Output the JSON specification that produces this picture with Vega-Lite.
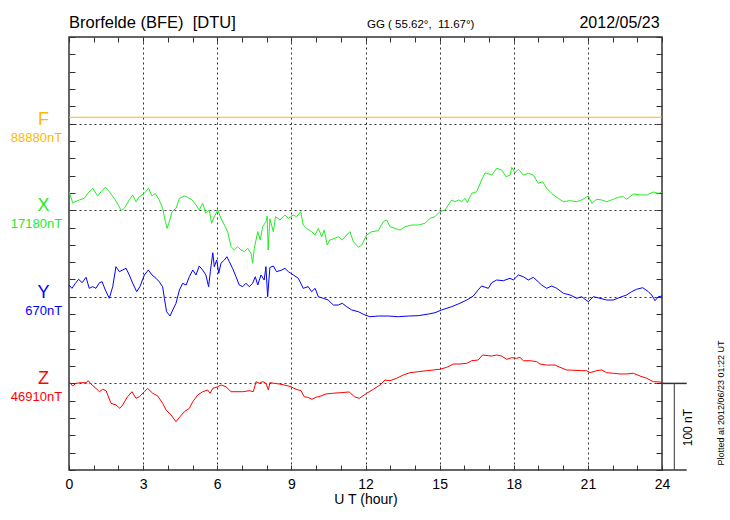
{
  "$schema": "https://vega.github.io/schema/vega-lite/v6.json",
  "width": 593,
  "height": 433,
  "autosize": "none",
  "padding": {"left": 69, "top": 37, "right": 68, "bottom": 50},
  "background": "white",
  "config": {"font": "Liberation Sans", "view": {"stroke": "#333333", "strokeWidth": 1.5}},
  "datasets": {
    "series": [
      {"c":"X","h":0,"v":321.4},{"c":"X","h":0.15,"v":308.7},{"c":"X","h":0.42,"v":311.8},{"c":"X","h":0.62,"v":313.7},{"c":"X","h":0.76,"v":319.5},{"c":"X","h":0.96,"v":325.3},{"c":"X","h":1.16,"v":316.4},{"c":"X","h":1.3,"v":321.4},{"c":"X","h":1.47,"v":326.4},{"c":"X","h":1.63,"v":321.4},{"c":"X","h":1.83,"v":313.7},{"c":"X","h":2.04,"v":304},{"c":"X","h":2.1,"v":299.4},{"c":"X","h":2.24,"v":302.2},{"c":"X","h":2.44,"v":311.8},{"c":"X","h":2.58,"v":317.6},{"c":"X","h":2.71,"v":309.8},{"c":"X","h":2.85,"v":315.6},{"c":"X","h":3.05,"v":319.5},{"c":"X","h":3.22,"v":325.3},{"c":"X","h":3.36,"v":316.4},{"c":"X","h":3.49,"v":319.5},{"c":"X","h":3.65,"v":311.8},{"c":"X","h":3.79,"v":302.2},{"c":"X","h":3.9,"v":286.7},{"c":"X","h":3.97,"v":279},{"c":"X","h":4.06,"v":286.7},{"c":"X","h":4.17,"v":298.3},{"c":"X","h":4.33,"v":302.2},{"c":"X","h":4.47,"v":313.7},{"c":"X","h":4.67,"v":316.4},{"c":"X","h":4.8,"v":314.9},{"c":"X","h":4.98,"v":311.8},{"c":"X","h":5.14,"v":306},{"c":"X","h":5.27,"v":300.2},{"c":"X","h":5.41,"v":308},{"c":"X","h":5.54,"v":296.4},{"c":"X","h":5.68,"v":300.2},{"c":"X","h":5.77,"v":284.9},{"c":"X","h":5.88,"v":292.5},{"c":"X","h":6.02,"v":300.2},{"c":"X","h":6.15,"v":290.6},{"c":"X","h":6.29,"v":282.9},{"c":"X","h":6.42,"v":275.2},{"c":"X","h":6.56,"v":257.9},{"c":"X","h":6.69,"v":254},{"c":"X","h":6.83,"v":257.9},{"c":"X","h":6.96,"v":254},{"c":"X","h":7.1,"v":252.1},{"c":"X","h":7.23,"v":256},{"c":"X","h":7.37,"v":250.2},{"c":"X","h":7.43,"v":238.7},{"c":"X","h":7.5,"v":256},{"c":"X","h":7.64,"v":275.2},{"c":"X","h":7.74,"v":265.6},{"c":"X","h":7.84,"v":281},{"c":"X","h":7.97,"v":286.7},{"c":"X","h":8.02,"v":293.3},{"c":"X","h":8.06,"v":254},{"c":"X","h":8.13,"v":290},{"c":"X","h":8.27,"v":275.2},{"c":"X","h":8.36,"v":292.5},{"c":"X","h":8.54,"v":288.7},{"c":"X","h":8.74,"v":294.5},{"c":"X","h":8.88,"v":290.6},{"c":"X","h":9.08,"v":294.5},{"c":"X","h":9.21,"v":292.5},{"c":"X","h":9.38,"v":298.3},{"c":"X","h":9.48,"v":282.9},{"c":"X","h":9.62,"v":279},{"c":"X","h":9.82,"v":275.2},{"c":"X","h":9.96,"v":271.4},{"c":"X","h":10.09,"v":279},{"c":"X","h":10.23,"v":269.4},{"c":"X","h":10.33,"v":277.1},{"c":"X","h":10.45,"v":259.8},{"c":"X","h":10.56,"v":265.6},{"c":"X","h":10.77,"v":267.6},{"c":"X","h":10.9,"v":269.4},{"c":"X","h":11.06,"v":265.6},{"c":"X","h":11.24,"v":271.4},{"c":"X","h":11.37,"v":275.2},{"c":"X","h":11.51,"v":263.6},{"c":"X","h":11.71,"v":257.2},{"c":"X","h":11.85,"v":259.8},{"c":"X","h":12.05,"v":271.4},{"c":"X","h":12.25,"v":275.2},{"c":"X","h":12.52,"v":276.3},{"c":"X","h":12.72,"v":286.7},{"c":"X","h":12.86,"v":288.7},{"c":"X","h":12.99,"v":281},{"c":"X","h":13.19,"v":279},{"c":"X","h":13.4,"v":277.1},{"c":"X","h":13.6,"v":281},{"c":"X","h":13.87,"v":282.9},{"c":"X","h":14.14,"v":282.9},{"c":"X","h":14.41,"v":284.9},{"c":"X","h":14.61,"v":290.6},{"c":"X","h":14.81,"v":292.5},{"c":"X","h":15.01,"v":298.3},{"c":"X","h":15.22,"v":300.2},{"c":"X","h":15.35,"v":306},{"c":"X","h":15.49,"v":311.8},{"c":"X","h":15.62,"v":309.8},{"c":"X","h":15.76,"v":311.8},{"c":"X","h":15.89,"v":309.8},{"c":"X","h":16.03,"v":313.7},{"c":"X","h":16.12,"v":309},{"c":"X","h":16.3,"v":319.5},{"c":"X","h":16.5,"v":321.4},{"c":"X","h":16.7,"v":334.9},{"c":"X","h":16.84,"v":343.3},{"c":"X","h":17.11,"v":340.6},{"c":"X","h":17.31,"v":348.4},{"c":"X","h":17.51,"v":346.4},{"c":"X","h":17.69,"v":338.7},{"c":"X","h":17.85,"v":340.6},{"c":"X","h":17.92,"v":349.5},{"c":"X","h":18.05,"v":343.3},{"c":"X","h":18.19,"v":347.2},{"c":"X","h":18.39,"v":340.6},{"c":"X","h":18.59,"v":342.6},{"c":"X","h":18.79,"v":340.6},{"c":"X","h":18.99,"v":331},{"c":"X","h":19.17,"v":332.9},{"c":"X","h":19.33,"v":325.3},{"c":"X","h":19.6,"v":317.6},{"c":"X","h":19.8,"v":313.7},{"c":"X","h":20.01,"v":309.8},{"c":"X","h":20.28,"v":311},{"c":"X","h":20.55,"v":309.8},{"c":"X","h":20.75,"v":311.8},{"c":"X","h":21.02,"v":316.4},{"c":"X","h":21.16,"v":308},{"c":"X","h":21.36,"v":312.6},{"c":"X","h":21.56,"v":311.8},{"c":"X","h":21.76,"v":309.8},{"c":"X","h":22.03,"v":312.6},{"c":"X","h":22.23,"v":314.9},{"c":"X","h":22.43,"v":315.6},{"c":"X","h":22.57,"v":312.6},{"c":"X","h":22.84,"v":318.7},{"c":"X","h":23.11,"v":317.6},{"c":"X","h":23.38,"v":317.6},{"c":"X","h":23.65,"v":321},{"c":"X","h":23.85,"v":319.5},{"c":"X","h":24,"v":320.7},
      {"c":"Y","h":0,"v":213.6},{"c":"Y","h":0.12,"v":209.8},{"c":"Y","h":0.26,"v":215.6},{"c":"Y","h":0.39,"v":220.2},{"c":"Y","h":0.53,"v":216.3},{"c":"Y","h":0.69,"v":222.5},{"c":"Y","h":0.82,"v":209.8},{"c":"Y","h":0.96,"v":211.7},{"c":"Y","h":1.09,"v":209.8},{"c":"Y","h":1.23,"v":216.3},{"c":"Y","h":1.34,"v":217.4},{"c":"Y","h":1.47,"v":207.9},{"c":"Y","h":1.63,"v":198.3},{"c":"Y","h":1.77,"v":211.7},{"c":"Y","h":1.9,"v":234.8},{"c":"Y","h":2.04,"v":229},{"c":"Y","h":2.17,"v":230.9},{"c":"Y","h":2.31,"v":232.9},{"c":"Y","h":2.44,"v":225.2},{"c":"Y","h":2.58,"v":215.6},{"c":"Y","h":2.74,"v":205.9},{"c":"Y","h":2.87,"v":211.7},{"c":"Y","h":3.05,"v":225.2},{"c":"Y","h":3.21,"v":230.9},{"c":"Y","h":3.36,"v":225.2},{"c":"Y","h":3.52,"v":221.4},{"c":"Y","h":3.65,"v":217.4},{"c":"Y","h":3.79,"v":211.7},{"c":"Y","h":3.86,"v":198.3},{"c":"Y","h":3.95,"v":182.8},{"c":"Y","h":4.09,"v":177.8},{"c":"Y","h":4.2,"v":184.8},{"c":"Y","h":4.33,"v":192.5},{"c":"Y","h":4.47,"v":207.9},{"c":"Y","h":4.6,"v":215.6},{"c":"Y","h":4.74,"v":213.6},{"c":"Y","h":4.87,"v":223.2},{"c":"Y","h":5.01,"v":230.9},{"c":"Y","h":5.14,"v":225.2},{"c":"Y","h":5.27,"v":235.6},{"c":"Y","h":5.41,"v":230.9},{"c":"Y","h":5.54,"v":225.2},{"c":"Y","h":5.65,"v":211.7},{"c":"Y","h":5.72,"v":229},{"c":"Y","h":5.82,"v":250.9},{"c":"Y","h":5.88,"v":234.8},{"c":"Y","h":5.98,"v":242.5},{"c":"Y","h":6.06,"v":227.1},{"c":"Y","h":6.15,"v":238.7},{"c":"Y","h":6.29,"v":242.5},{"c":"Y","h":6.39,"v":246.3},{"c":"Y","h":6.49,"v":240.5},{"c":"Y","h":6.62,"v":232.9},{"c":"Y","h":6.76,"v":223.2},{"c":"Y","h":6.89,"v":213.6},{"c":"Y","h":7.03,"v":211.7},{"c":"Y","h":7.16,"v":215.6},{"c":"Y","h":7.3,"v":211.7},{"c":"Y","h":7.43,"v":215.6},{"c":"Y","h":7.54,"v":223.2},{"c":"Y","h":7.64,"v":213.6},{"c":"Y","h":7.77,"v":225.2},{"c":"Y","h":7.9,"v":219.4},{"c":"Y","h":7.97,"v":234.8},{"c":"Y","h":8.04,"v":200.1},{"c":"Y","h":8.13,"v":233.8},{"c":"Y","h":8.27,"v":235.6},{"c":"Y","h":8.4,"v":229},{"c":"Y","h":8.61,"v":230.9},{"c":"Y","h":8.74,"v":232.9},{"c":"Y","h":8.88,"v":229},{"c":"Y","h":9.08,"v":225.2},{"c":"Y","h":9.28,"v":221.4},{"c":"Y","h":9.48,"v":209.8},{"c":"Y","h":9.68,"v":211.7},{"c":"Y","h":9.82,"v":205.9},{"c":"Y","h":9.96,"v":209.8},{"c":"Y","h":10.09,"v":200.1},{"c":"Y","h":10.29,"v":198.3},{"c":"Y","h":10.49,"v":196.3},{"c":"Y","h":10.7,"v":190.5},{"c":"Y","h":10.9,"v":190.5},{"c":"Y","h":11.06,"v":192.5},{"c":"Y","h":11.24,"v":188.6},{"c":"Y","h":11.44,"v":184.8},{"c":"Y","h":11.71,"v":182.8},{"c":"Y","h":11.98,"v":179},{"c":"Y","h":12.18,"v":177},{"c":"Y","h":12.52,"v":177.8},{"c":"Y","h":12.92,"v":177.8},{"c":"Y","h":13.33,"v":177},{"c":"Y","h":13.73,"v":177.8},{"c":"Y","h":14.14,"v":178.2},{"c":"Y","h":14.54,"v":180.1},{"c":"Y","h":14.81,"v":181.6},{"c":"Y","h":15.08,"v":184.8},{"c":"Y","h":15.49,"v":188.6},{"c":"Y","h":15.82,"v":192.5},{"c":"Y","h":16.1,"v":196.3},{"c":"Y","h":16.36,"v":200.9},{"c":"Y","h":16.56,"v":207.9},{"c":"Y","h":16.7,"v":212.5},{"c":"Y","h":16.97,"v":209.8},{"c":"Y","h":17.11,"v":216.3},{"c":"Y","h":17.31,"v":219.4},{"c":"Y","h":17.58,"v":218.6},{"c":"Y","h":17.85,"v":221.4},{"c":"Y","h":17.98,"v":219.4},{"c":"Y","h":18.19,"v":225.2},{"c":"Y","h":18.39,"v":223.2},{"c":"Y","h":18.59,"v":219.4},{"c":"Y","h":18.79,"v":222.5},{"c":"Y","h":18.99,"v":217.4},{"c":"Y","h":19.13,"v":213.6},{"c":"Y","h":19.33,"v":209.8},{"c":"Y","h":19.54,"v":212.5},{"c":"Y","h":19.74,"v":209.8},{"c":"Y","h":20.01,"v":204},{"c":"Y","h":20.28,"v":202.1},{"c":"Y","h":20.55,"v":198.3},{"c":"Y","h":20.75,"v":200.1},{"c":"Y","h":21.02,"v":194.3},{"c":"Y","h":21.22,"v":200.1},{"c":"Y","h":21.49,"v":198.3},{"c":"Y","h":21.76,"v":196.3},{"c":"Y","h":22.03,"v":196.3},{"c":"Y","h":22.3,"v":199.4},{"c":"Y","h":22.57,"v":202.1},{"c":"Y","h":22.77,"v":205.9},{"c":"Y","h":22.97,"v":208.7},{"c":"Y","h":23.22,"v":210.5},{"c":"Y","h":23.45,"v":205.9},{"c":"Y","h":23.58,"v":202.1},{"c":"Y","h":23.72,"v":195.5},{"c":"Y","h":23.85,"v":200.1},{"c":"Y","h":24,"v":200.9},
      {"c":"Z","h":0,"v":102},{"c":"Z","h":0.15,"v":97},{"c":"Z","h":0.28,"v":100.1},{"c":"Z","h":0.49,"v":100.8},{"c":"Z","h":0.69,"v":100.8},{"c":"Z","h":0.78,"v":103.1},{"c":"Z","h":0.89,"v":99.3},{"c":"Z","h":1.09,"v":94.3},{"c":"Z","h":1.23,"v":90.4},{"c":"Z","h":1.36,"v":93.2},{"c":"Z","h":1.5,"v":91.6},{"c":"Z","h":1.7,"v":77},{"c":"Z","h":1.9,"v":75.1},{"c":"Z","h":2.06,"v":71.2},{"c":"Z","h":2.17,"v":75.1},{"c":"Z","h":2.37,"v":84.6},{"c":"Z","h":2.55,"v":90.4},{"c":"Z","h":2.71,"v":82.8},{"c":"Z","h":2.85,"v":84.6},{"c":"Z","h":3.05,"v":90.4},{"c":"Z","h":3.18,"v":94.3},{"c":"Z","h":3.39,"v":88.6},{"c":"Z","h":3.59,"v":85.5},{"c":"Z","h":3.79,"v":77},{"c":"Z","h":3.93,"v":69.3},{"c":"Z","h":4.13,"v":63.5},{"c":"Z","h":4.33,"v":55.8},{"c":"Z","h":4.49,"v":61.5},{"c":"Z","h":4.67,"v":67.3},{"c":"Z","h":4.87,"v":71.2},{"c":"Z","h":5.01,"v":78.9},{"c":"Z","h":5.21,"v":86.6},{"c":"Z","h":5.41,"v":90.4},{"c":"Z","h":5.61,"v":92.4},{"c":"Z","h":5.71,"v":88.6},{"c":"Z","h":5.82,"v":94.3},{"c":"Z","h":6.02,"v":96.2},{"c":"Z","h":6.15,"v":98.2},{"c":"Z","h":6.35,"v":96.2},{"c":"Z","h":6.56,"v":90.4},{"c":"Z","h":6.76,"v":90.4},{"c":"Z","h":7.03,"v":90.4},{"c":"Z","h":7.3,"v":91.6},{"c":"Z","h":7.46,"v":90.4},{"c":"Z","h":7.57,"v":102},{"c":"Z","h":7.7,"v":100.1},{"c":"Z","h":7.84,"v":102},{"c":"Z","h":7.97,"v":100.1},{"c":"Z","h":8.07,"v":92.4},{"c":"Z","h":8.13,"v":100.8},{"c":"Z","h":8.31,"v":100.1},{"c":"Z","h":8.51,"v":99.3},{"c":"Z","h":8.71,"v":98.2},{"c":"Z","h":8.98,"v":96.2},{"c":"Z","h":9.19,"v":93.2},{"c":"Z","h":9.39,"v":91.6},{"c":"Z","h":9.52,"v":84.6},{"c":"Z","h":9.66,"v":84},{"c":"Z","h":9.83,"v":81.6},{"c":"Z","h":10,"v":84},{"c":"Z","h":10.2,"v":85.5},{"c":"Z","h":10.4,"v":87.8},{"c":"Z","h":10.67,"v":88.6},{"c":"Z","h":11,"v":89.3},{"c":"Z","h":11.34,"v":90.1},{"c":"Z","h":11.55,"v":84.6},{"c":"Z","h":11.75,"v":82.8},{"c":"Z","h":11.95,"v":86.6},{"c":"Z","h":12.05,"v":88.6},{"c":"Z","h":12.32,"v":93.2},{"c":"Z","h":12.59,"v":98.2},{"c":"Z","h":12.79,"v":103.9},{"c":"Z","h":12.99,"v":103.1},{"c":"Z","h":13.26,"v":105.9},{"c":"Z","h":13.53,"v":109.7},{"c":"Z","h":13.8,"v":112.4},{"c":"Z","h":14.14,"v":113.5},{"c":"Z","h":14.48,"v":114.7},{"c":"Z","h":14.75,"v":115.5},{"c":"Z","h":15.01,"v":116.3},{"c":"Z","h":15.29,"v":118.6},{"c":"Z","h":15.56,"v":122.4},{"c":"Z","h":15.82,"v":122.4},{"c":"Z","h":16.1,"v":123.2},{"c":"Z","h":16.3,"v":126.2},{"c":"Z","h":16.56,"v":127},{"c":"Z","h":16.74,"v":132.8},{"c":"Z","h":16.97,"v":132},{"c":"Z","h":17.11,"v":131.6},{"c":"Z","h":17.31,"v":132.8},{"c":"Z","h":17.51,"v":131.6},{"c":"Z","h":17.71,"v":127.8},{"c":"Z","h":17.92,"v":129.7},{"c":"Z","h":18.12,"v":129},{"c":"Z","h":18.25,"v":130.1},{"c":"Z","h":18.39,"v":126.2},{"c":"Z","h":18.66,"v":126.2},{"c":"Z","h":18.93,"v":125.1},{"c":"Z","h":19.06,"v":122.4},{"c":"Z","h":19.33,"v":121.2},{"c":"Z","h":19.67,"v":121.2},{"c":"Z","h":19.87,"v":118.6},{"c":"Z","h":20.14,"v":115.5},{"c":"Z","h":20.48,"v":115.1},{"c":"Z","h":20.75,"v":114.7},{"c":"Z","h":20.95,"v":114.7},{"c":"Z","h":21.09,"v":112.4},{"c":"Z","h":21.36,"v":114.7},{"c":"Z","h":21.56,"v":115.5},{"c":"Z","h":21.76,"v":112.4},{"c":"Z","h":22.03,"v":111.7},{"c":"Z","h":22.3,"v":110.9},{"c":"Z","h":22.57,"v":110.9},{"c":"Z","h":22.84,"v":111.7},{"c":"Z","h":23.11,"v":108.5},{"c":"Z","h":23.38,"v":105.9},{"c":"Z","h":23.65,"v":102},{"c":"Z","h":23.92,"v":101.6},{"c":"Z","h":24,"v":101}
    ],
    "fline": [{"c":"F","h":0,"v":407.3},{"c":"F","h":24,"v":407.3}],
    "labels": [
      {"c":"F","base":400,"name":"F","val":"88880nT"},
      {"c":"X","base":300,"name":"X","val":"17180nT"},
      {"c":"Y","base":200,"name":"Y","val":"670nT"},
      {"c":"Z","base":100,"name":"Z","val":"46910nT"}
    ],
    "one": [{}]
  },
  "layer": [
    {
      "data": {"name": "series"},
      "mark": {"type": "line", "strokeWidth": 1, "clip": true},
      "encoding": {
        "x": {"field": "h", "type": "quantitative",
          "scale": {"domain": [0, 24], "nice": false, "zero": false},
          "axis": {"orient": "bottom", "offset": -5, "values": [0,1,2,3,4,5,6,7,8,9,10,11,12,13,14,15,16,17,18,19,20,21,22,23,24],
            "tickSize": 5, "tickColor": "#333333", "tickWidth": 1, "domain": false,
            "labelExpr": "datum.value % 3 == 0 ? datum.label : ''", "labelFontSize": 14, "labelColor": "#000000", "labelPadding": 7, "labelFlush": false, "labelOverlap": false,
            "grid": true, "gridDash": [2, 3], "gridColor": "#333333", "gridWidth": 1,
            "gridOpacity": {"condition": {"test": "datum.value % 3 == 0 && datum.value > 0 && datum.value < 24", "value": 1}, "value": 0},
            "title": "U T (hour)", "titleFontSize": 14, "titleFontWeight": "normal", "titleColor": "#000000", "titlePadding": 1}},
        "y": {"field": "v", "type": "quantitative",
          "scale": {"domain": [0, 500], "nice": false, "zero": false},
          "axis": {"orient": "left", "offset": -6, "values": [0,20,40,60,80,100,120,140,160,180,200,220,240,260,280,300,320,340,360,380,400,420,440,460,480,500],
            "tickSize": 6, "tickColor": "#333333", "tickWidth": 1, "domain": false, "labels": false, "title": null,
            "grid": true, "gridDash": [2, 3], "gridColor": "#333333", "gridWidth": 1,
            "gridOpacity": {"condition": {"test": "datum.value % 100 == 0 && datum.value > 0 && datum.value < 500", "value": 1}, "value": 0}}},
        "color": {"field": "c", "type": "nominal",
          "scale": {"domain": ["F", "X", "Y", "Z"], "range": ["#FFB800", "#22EE22", "#0000FF", "#FF0000"]},
          "legend": null}
      }
    },
    {
      "data": {"name": "fline"},
      "mark": {"type": "line", "strokeWidth": 1, "clip": true},
      "encoding": {
        "x": {"field": "h", "type": "quantitative",
          "axis": {"orient": "top", "offset": -5, "values": [0,1,2,3,4,5,6,7,8,9,10,11,12,13,14,15,16,17,18,19,20,21,22,23,24],
            "tickSize": 5, "tickColor": "#333333", "domain": false, "labels": false, "grid": false, "title": null}},
        "y": {"field": "v", "type": "quantitative",
          "axis": {"orient": "right", "offset": -6, "values": [0,20,40,60,80,100,120,140,160,180,200,220,240,260,280,300,320,340,360,380,400,420,440,460,480,500],
            "tickSize": 6, "tickColor": "#333333", "domain": false, "labels": false, "grid": false, "title": null}},
        "color": {"field": "c", "type": "nominal", "legend": null}
      }
    },
    {
      "data": {"name": "labels"},
      "mark": {"type": "text", "fontSize": 18, "align": "center", "baseline": "alphabetic", "dy": 1},
      "encoding": {
        "x": {"datum": -1.03, "axis": null},
        "y": {"field": "base", "type": "quantitative", "axis": null},
        "text": {"field": "name"},
        "color": {"field": "c", "type": "nominal", "legend": null}
      }
    },
    {
      "data": {"name": "labels"},
      "mark": {"type": "text", "fontSize": 13, "align": "right", "baseline": "alphabetic", "dy": 18},
      "encoding": {
        "x": {"datum": -0.28, "axis": null},
        "y": {"field": "base", "type": "quantitative", "axis": null},
        "text": {"field": "val"},
        "color": {"field": "c", "type": "nominal", "legend": null}
      }
    },
    {
      "data": {"name": "one"},
      "mark": {"type": "rule", "color": "#333333", "strokeWidth": 1.5},
      "encoding": {"x": {"datum": 24, "axis": null}, "x2": {"datum": 25}, "y": {"datum": 100, "axis": null}}
    },
    {
      "data": {"name": "one"},
      "mark": {"type": "rule", "color": "#333333", "strokeWidth": 1.5},
      "encoding": {"x": {"datum": 24, "axis": null}, "x2": {"datum": 25}, "y": {"datum": 0, "axis": null}}
    },
    {
      "data": {"name": "one"},
      "mark": {"type": "rule", "color": "#555555", "strokeWidth": 1.2},
      "encoding": {"x": {"datum": 24.5, "axis": null}, "y": {"datum": 0, "axis": null}, "y2": {"datum": 100}}
    },
    {
      "data": {"name": "one"},
      "mark": {"type": "text", "fontSize": 12, "angle": 270, "align": "center", "baseline": "middle", "color": "#000000"},
      "encoding": {"x": {"datum": 25.05, "axis": null}, "y": {"datum": 49, "axis": null}, "text": {"value": "100 nT"}}
    },
    {
      "data": {"name": "one"},
      "mark": {"type": "text", "fontSize": 9, "angle": 270, "align": "center", "baseline": "middle", "color": "#000000"},
      "encoding": {"x": {"datum": 26.4, "axis": null}, "y": {"datum": 77.4, "axis": null}, "text": {"value": "Plotted at 2012/06/23 01:22 UT"}}
    },
    {
      "data": {"name": "one"},
      "mark": {"type": "text", "fontSize": 16.5, "align": "left", "baseline": "alphabetic", "dy": -9, "color": "#000000"},
      "encoding": {"x": {"datum": 0, "axis": null}, "y": {"datum": 500, "axis": null}, "text": {"value": "Brorfelde (BFE) \u00a0[DTU]"}}
    },
    {
      "data": {"name": "one"},
      "mark": {"type": "text", "fontSize": 11.5, "align": "left", "baseline": "alphabetic", "dy": -9, "color": "#000000"},
      "encoding": {"x": {"datum": 12.06, "axis": null}, "y": {"datum": 500, "axis": null}, "text": {"value": "GG ( 55.62°, \u00a011.67°)"}}
    },
    {
      "data": {"name": "one"},
      "mark": {"type": "text", "fontSize": 16, "align": "right", "baseline": "alphabetic", "dy": -9, "color": "#000000"},
      "encoding": {"x": {"datum": 23.9, "axis": null}, "y": {"datum": 500, "axis": null}, "text": {"value": "2012/05/23"}}
    }
  ]
}
